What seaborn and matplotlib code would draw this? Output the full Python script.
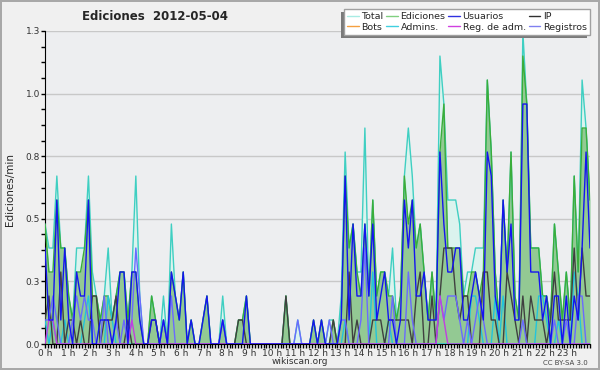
import numpy as np
import pandas as pd
import matplotlib
matplotlib.use("Agg")
import matplotlib.pyplot as plt
import seaborn as sns
from matplotlib.lines import Line2D
from matplotlib.patches import Rectangle
from matplotlib.ticker import MultipleLocator, FixedLocator, FixedFormatter

# --- DATA: edits per bin (138 bins of ~10.4 min over the day) ---
BIN_MIN = 1440 / 138

total = [5, 4, 4, 7, 4, 4, 2, 1, 4, 4,   4, 7, 3, 2, 1, 2, 4, 1, 2, 3,
         3, 1, 3, 7, 2, 0, 0, 2, 1, 0,   2, 0, 5, 2, 1, 3, 0, 1, 0, 0,
         1, 2, 0, 0, 0, 2, 0, 0, 0, 1,   1, 2, 0, 0, 0, 0, 0, 0, 0, 0,
         0, 2, 0, 0, 1, 0, 0, 0, 1, 0,   1, 0, 1, 1, 0, 2, 8, 4, 5, 3,
         3, 9, 2, 6, 2, 3, 3, 2, 4, 1,   2, 7, 9, 7, 4, 5, 3, 1, 3, 1,
         12, 10, 6, 6, 6, 5, 2, 3, 3, 4, 4, 4, 11, 8, 3, 1, 6, 3, 8, 2,
         1, 13, 10, 4, 4, 4, 2, 2, 1, 5, 3, 1, 3, 1, 7, 3, 11, 9, 6]

ediciones = [5, 3, 3, 6, 4, 4, 2, 1, 3, 3,   4, 6, 2, 2, 1, 2, 2, 1, 2, 3,
             3, 1, 3, 3, 1, 0, 0, 2, 1, 0,   1, 0, 3, 2, 1, 3, 0, 1, 0, 0,
             1, 2, 0, 0, 0, 1, 0, 0, 0, 1,   1, 2, 0, 0, 0, 0, 0, 0, 0, 0,
             0, 2, 0, 0, 0, 0, 0, 0, 1, 0,   1, 0, 0, 1, 0, 1, 7, 4, 5, 3,
             2, 5, 2, 6, 2, 3, 3, 2, 2, 1,   2, 7, 5, 6, 4, 5, 3, 1, 3, 1,
             8, 10, 4, 4, 4, 4, 2, 2, 3, 3,  2, 3, 11, 8, 3, 1, 6, 3, 8, 2,
             1, 12, 10, 4, 4, 4, 2, 2, 1, 5, 3, 1, 3, 1, 7, 3, 9, 9, 6]

usuarios = [4, 1, 1, 6, 1, 4, 1, 0, 3, 2,   2, 6, 0, 0, 1, 1, 1, 0, 1, 3,
            3, 0, 3, 3, 1, 0, 0, 1, 1, 0,   1, 0, 3, 2, 1, 3, 0, 1, 0, 0,
            1, 2, 0, 0, 0, 1, 0, 0, 0, 0,   0, 2, 0, 0, 0, 0, 0, 0, 0, 0,
            0, 0, 0, 0, 0, 0, 0, 0, 1, 0,   1, 0, 0, 0, 0, 1, 7, 1, 5, 2,
            2, 5, 2, 5, 1, 2, 3, 1, 1, 0,   1, 6, 4, 6, 2, 2, 3, 1, 1, 1,
            8, 5, 3, 3, 4, 4, 1, 1, 2, 3,   2, 1, 8, 7, 2, 1, 6, 3, 5, 1,
            1, 10, 10, 3, 3, 3, 1, 2, 0, 2, 2, 0, 2, 0, 2, 1, 4, 8, 4]

ip = [1, 2, 0, 0, 3, 0, 1, 1, 0, 1,   0, 0, 2, 2, 0, 1, 1, 1, 2, 0,
      0, 1, 0, 0, 0, 0, 0, 1, 1, 0,   0, 0, 0, 0, 0, 0, 0, 0, 0, 0,
      0, 0, 0, 0, 0, 0, 0, 0, 0, 1,   1, 0, 0, 0, 0, 0, 0, 0, 0, 0,
      0, 2, 0, 0, 0, 0, 0, 0, 0, 0,   0, 0, 0, 1, 0, 0, 0, 3, 0, 1,
      0, 0, 0, 1, 1, 1, 0, 1, 1, 1,   1, 1, 1, 0, 2, 3, 0, 0, 2, 0,
      2, 4, 4, 4, 2, 1, 2, 2, 0, 0,   0, 3, 3, 1, 1, 0, 0, 3, 2, 1,
      0, 2, 0, 2, 1, 1, 1, 0, 1, 3,   1, 1, 1, 1, 4, 1, 4, 2, 2]

admins = [1, 0, 1, 0, 0, 1, 0, 0, 0, 0,   1, 2, 0, 0, 0, 0, 2, 1, 0, 0,
          0, 0, 0, 0, 0, 0, 0, 0, 0, 0,   0, 0, 0, 0, 0, 0, 0, 0, 0, 0,
          0, 0, 0, 0, 0, 0, 0, 0, 0, 0,   0, 0, 0, 0, 0, 0, 0, 0, 0, 0,
          0, 0, 0, 0, 0, 0, 0, 0, 0, 0,   0, 0, 0, 0, 0, 0, 1, 0, 0, 0,
          0, 0, 0, 3, 0, 0, 0, 1, 0, 0,   0, 0, 0, 0, 0, 0, 0, 0, 0, 0,
          0, 0, 0, 0, 0, 0, 0, 0, 2, 2,   1, 0, 0, 0, 2, 0, 2, 0, 0, 0,
          0, 0, 0, 0, 0, 2, 2, 1, 0, 0,   1, 0, 0, 0, 3, 2, 0, 0, 0]

registros = [1, 1, 2, 1, 0, 0, 0, 1, 2, 1,   2, 1, 1, 0, 0, 2, 0, 0, 1, 0,
             1, 0, 1, 4, 2, 0, 0, 0, 0, 0,   1, 0, 2, 0, 0, 0, 0, 0, 0, 0,
             0, 0, 0, 0, 0, 1, 0, 0, 0, 0,   0, 0, 0, 0, 0, 0, 0, 0, 0, 0,
             0, 0, 0, 0, 1, 0, 0, 0, 0, 0,   0, 0, 1, 0, 0, 1, 1, 0, 0, 0,
             1, 4, 0, 0, 0, 0, 0, 0, 2, 0,   0, 0, 3, 1, 0, 0, 0, 0, 0, 0,
             2, 1, 2, 2, 2, 1, 0, 1, 0, 1,   2, 1, 0, 0, 0, 0, 0, 0, 0, 0,
             0, 1, 0, 0, 0, 0, 0, 0, 0, 1,   0, 0, 1, 0, 0, 2, 2, 0, 0]

reg_adm = [0, 1, 1, 0, 0, 0, 0, 0, 0, 0,   0, 0, 0, 0, 0, 0, 0, 0, 0, 0,
           0, 0, 1, 0, 0, 0, 0, 0, 0, 0,   0, 0, 0, 0, 0, 0, 0, 0, 0, 0,
           0, 0, 0, 0, 0, 0, 0, 0, 0, 0,   0, 0, 0, 0, 0, 0, 0, 0, 0, 0,
           0, 0, 0, 0, 0, 0, 0, 0, 0, 0,   0, 0, 0, 0, 0, 0, 0, 0, 0, 0,
           0, 0, 0, 0, 0, 0, 0, 0, 0, 0,   0, 0, 0, 0, 0, 0, 0, 0, 0, 0,
           2, 1, 0, 0, 0, 0, 0, 0, 0, 0,   0, 0, 0, 0, 0, 0, 0, 0, 0, 0,
           0, 0, 0, 0, 0, 0, 0, 0, 0, 0,   0, 0, 0, 0, 0, 0, 0, 0, 0]

y_ticks = [0, 0.25, 0.5, 0.75, 1.0, 1.25]
y_labels = ["0.0", "0.3", "0.5", "0.8", "1.0", "1.3"]
x_labels = [f"{h} h" for h in range(24)]

# build the table (edits per minute)
df = pd.DataFrame({
    "hora": np.arange(len(total)) * 24 / 138,
    "Total": total, "Ediciones": ediciones, "Usuarios": usuarios, "IP": ip,
    "Admins.": admins, "Registros": registros, "Reg. de adm.": reg_adm,
})
for c in df.columns[1:]:
    df[c] = df[c] / BIN_MIN

# --- STYLE ---
sns.set_style("white")
plt.rcParams["font.family"] = ["DejaVu Sans"]

fig = plt.figure(figsize=(6, 3.7), dpi=100, facecolor="#f0f0f0")
fig.patch.set_edgecolor("#a8a8a8")
fig.patch.set_linewidth(1.5)
ax = fig.add_axes([45 / 600, 26 / 370, 545 / 600, 313 / 370])
ax.set_facecolor("#edeef0")

# fills
ax.fill_between(df["hora"], df["Total"], color="#dbf3ee", lw=0, zorder=1)
ax.fill_between(df["hora"], df["Ediciones"], color="#93c993", lw=0, zorder=2)

# lines
colors = {
    "Total": "#3fcfc2", "Ediciones": "#3aad3a", "Admins.": "#22c4dc",
    "IP": "#404040", "Registros": "#6a6aff", "Reg. de adm.": "#c23ee0",
    "Usuarios": "#1414f0",
}
for i, col in enumerate(["Total", "Ediciones", "Admins.", "IP", "Registros", "Reg. de adm.", "Usuarios"]):
    sns.lineplot(data=df, x="hora", y=col, ax=ax, color=colors[col], lw=1.0,
                 legend=False, zorder=3 + i)

ax.set_xlim(0, 24)
ax.set_ylim(0, 1.25)
ax.set_xlabel("")
ax.set_ylabel("")
ax.spines["top"].set_visible(False)
ax.spines["right"].set_visible(False)
ax.spines["left"].set_color("black")
ax.spines["bottom"].set_color("black")

ax.yaxis.set_major_locator(FixedLocator(y_ticks))
ax.yaxis.set_major_formatter(FixedFormatter(y_labels))
ax.yaxis.set_minor_locator(MultipleLocator(0.0625))
ax.xaxis.set_major_locator(FixedLocator(list(range(24))))
ax.xaxis.set_major_formatter(FixedFormatter(x_labels))
ax.xaxis.set_minor_locator(MultipleLocator(0.125))
ax.tick_params(axis="both", which="both", direction="out", length=3, width=1,
               color="black", labelsize=6.5, labelcolor="#333333", pad=0.5,
               bottom=True, left=True)
ax.yaxis.grid(True, color="#c8c8c8", lw=1)
ax.set_axisbelow(True)

# legend (column-major order)
leg_items = [("Total", "#a8ece4"), ("Bots", "#f5a040"), ("Ediciones", "#80d080"),
             ("Admins.", "#40d0e0"), ("Usuarios", "#3030e0"), ("Reg. de adm.", "#d040e0"),
             ("IP", "#303030"), ("Registros", "#8080f0")]
handles = [Line2D([], [], color=c, lw=1) for _, c in leg_items]
leg = ax.legend(handles, [n for n, _ in leg_items], ncol=4, loc="upper right",
                bbox_to_anchor=(590 / 600, 361 / 370), bbox_transform=fig.transFigure,
                fontsize=6.8, frameon=True, fancybox=False, edgecolor="#a0a0a0",
                facecolor="white", framealpha=1, borderpad=0.35, labelspacing=0.15,
                handlelength=1.2, handletextpad=0.3, columnspacing=0.3, borderaxespad=0)
leg.set_zorder(20)
fig.canvas.draw()
bb = leg.get_window_extent()
ax.add_patch(Rectangle(((bb.x0 - 3) / 600, (bb.y0 - 3) / 370), bb.width / 600, bb.height / 370,
                       transform=fig.transFigure, facecolor="#7a7a7a", edgecolor="none",
                       zorder=19, clip_on=False))

# texts
fig.text(155 / 600, 1 - 17 / 370, "Ediciones  2012-05-04", ha="center", va="center",
         fontsize=8.5, fontweight="bold")
fig.text(10 / 600, 1 - 190 / 370, "Ediciones/min", rotation=90, ha="center", va="center",
         fontsize=7.5)
fig.text(300 / 600, 1 - 362 / 370, "wikiscan.org", ha="center", va="center",
         fontsize=6.5, color="#333333")
fig.text(588 / 600, 1 - 363 / 370, "CC BY-SA 3.0", ha="right", va="center",
         fontsize=5, color="#444444")

fig.savefig("out.png", dpi=100)
